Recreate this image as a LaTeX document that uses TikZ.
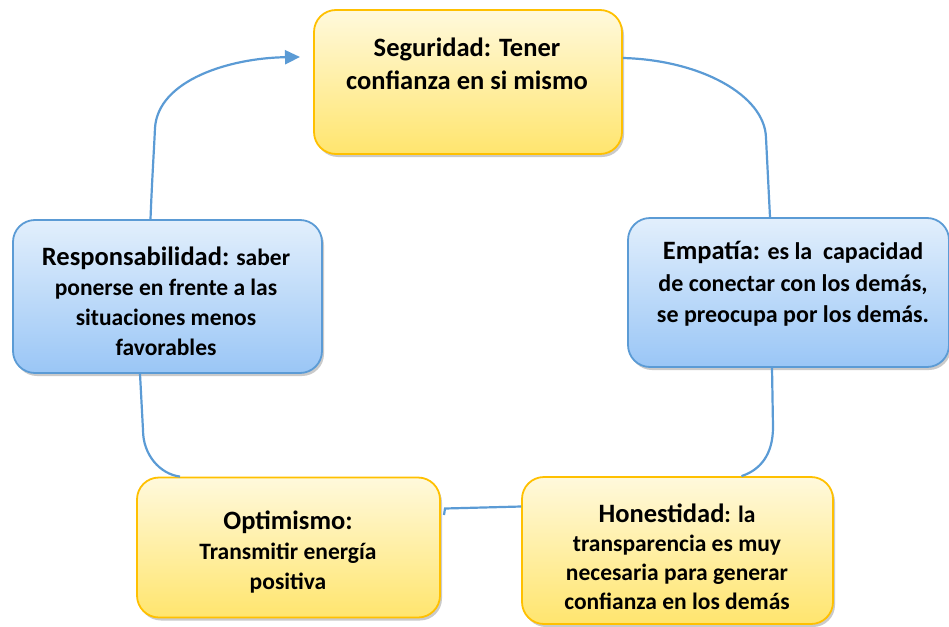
\documentclass[tikz,border=0pt]{standalone}
\usepackage{fontspec}
\setmainfont{Carlito}
\usetikzlibrary{shadows,arrows.meta,calc}
\definecolor{ygold}{HTML}{FFC000}
\definecolor{ytop}{HTML}{FFF9DC}
\definecolor{ybot}{HTML}{FFE56E}
\definecolor{bline}{HTML}{5B9BD5}
\definecolor{btop}{HTML}{E2EFFC}
\definecolor{bbot}{HTML}{9AC6F6}
\definecolor{cblue}{HTML}{5B9BD5}
\newcommand\bigw[1]{{\fontsize{26.5}{30}\selectfont #1}}
\tikzset{
  boxshadow/.style={drop shadow={shadow xshift=2pt,shadow yshift=-3pt,opacity=0.35,fill=black!60}},
  ybox/.style={draw=ygold, line width=1.8pt, rounded corners=22pt, top color=ytop, bottom color=ybot, inner sep=0pt, boxshadow},
  bbox/.style={draw=bline, line width=1.8pt, rounded corners=22pt, top color=btop, bottom color=bbot, inner sep=0pt, boxshadow},
  conn/.style={draw=cblue, line width=2.2pt},
  txt/.style={align=center, inner sep=0pt, font=\fontsize{23.5}{30}\selectfont\bfseries}
}
\begin{document}
\begin{tikzpicture}[x=1pt,y=-1pt]
\useasboundingbox (0,0) rectangle (949,626);
% boxes
\node[ybox, minimum width=308pt, minimum height=144pt] (seg) at (468,82) {};
\node[bbox, minimum width=321pt, minimum height=149pt] (emp) at (788.5,292.5) {};
\node[bbox, minimum width=309pt, minimum height=153pt] (resp) at (167.5,296.5) {};
\node[ybox, minimum width=303pt, minimum height=140pt] (opt) at (288.5,547.5) {};
\node[ybox, minimum width=311pt, minimum height=147pt] (hon) at (677.5,550.5) {};
% texts
\node[txt, font=\fontsize{26.5}{33}\selectfont\bfseries] (segt) at (467,64) {Seguridad: Tener\\confianza en si mismo};
\node[txt, font=\fontsize{24}{31.5}\selectfont\bfseries] (empt) at (793,284) {\bigw{Empatía:} es la~ capacidad\\de conectar con los demás,\\se preocupa por los demás.};
\node[txt] (respt) at (166,301) {\bigw{Responsabilidad:} saber\\ponerse en frente a las\\situaciones menos\\favorables};
\node[txt] (optt) at (288,552) {\bigw{Optimismo:}\\Transmitir energía\\positiva};
\node[txt, font=\fontsize{23.5}{29}\selectfont\bfseries] (hont) at (677,557) {\bigw{Honestidad}: la\\transparencia es muy\\necesaria para generar\\confianza en los demás};
% connectors
\coordinate (tip) at (300,57);
\draw[conn,-{Triangle[length=15pt,width=14pt]}] ($(resp.north)+(-17,0)$) .. controls (152,180) and (154,150) .. (155,128)
  .. controls (158,80) and (230,58) .. (tip);
\draw[conn] ($(seg.east)+(0,-24)$) .. controls (700,60) and (765,95) .. (766,138) -- ($(emp.north)+(-18.5,0)$);
\draw[conn] ($(emp.south)+(-16.5,0)$) -- (773,427) .. controls (773,455) and (760,470) .. ($(hon.north)+(64,0)$);
\draw[conn] ($(hon.west)+(0,-44)$) -- (445,508.5) -- (444,515);
\draw[conn] ($(opt.north)+(-108.5,0)$) .. controls (160,474) and (143,455) .. (143,430) -- ($(resp.south)+(-27.5,0)$);
\end{tikzpicture}
\end{document}
